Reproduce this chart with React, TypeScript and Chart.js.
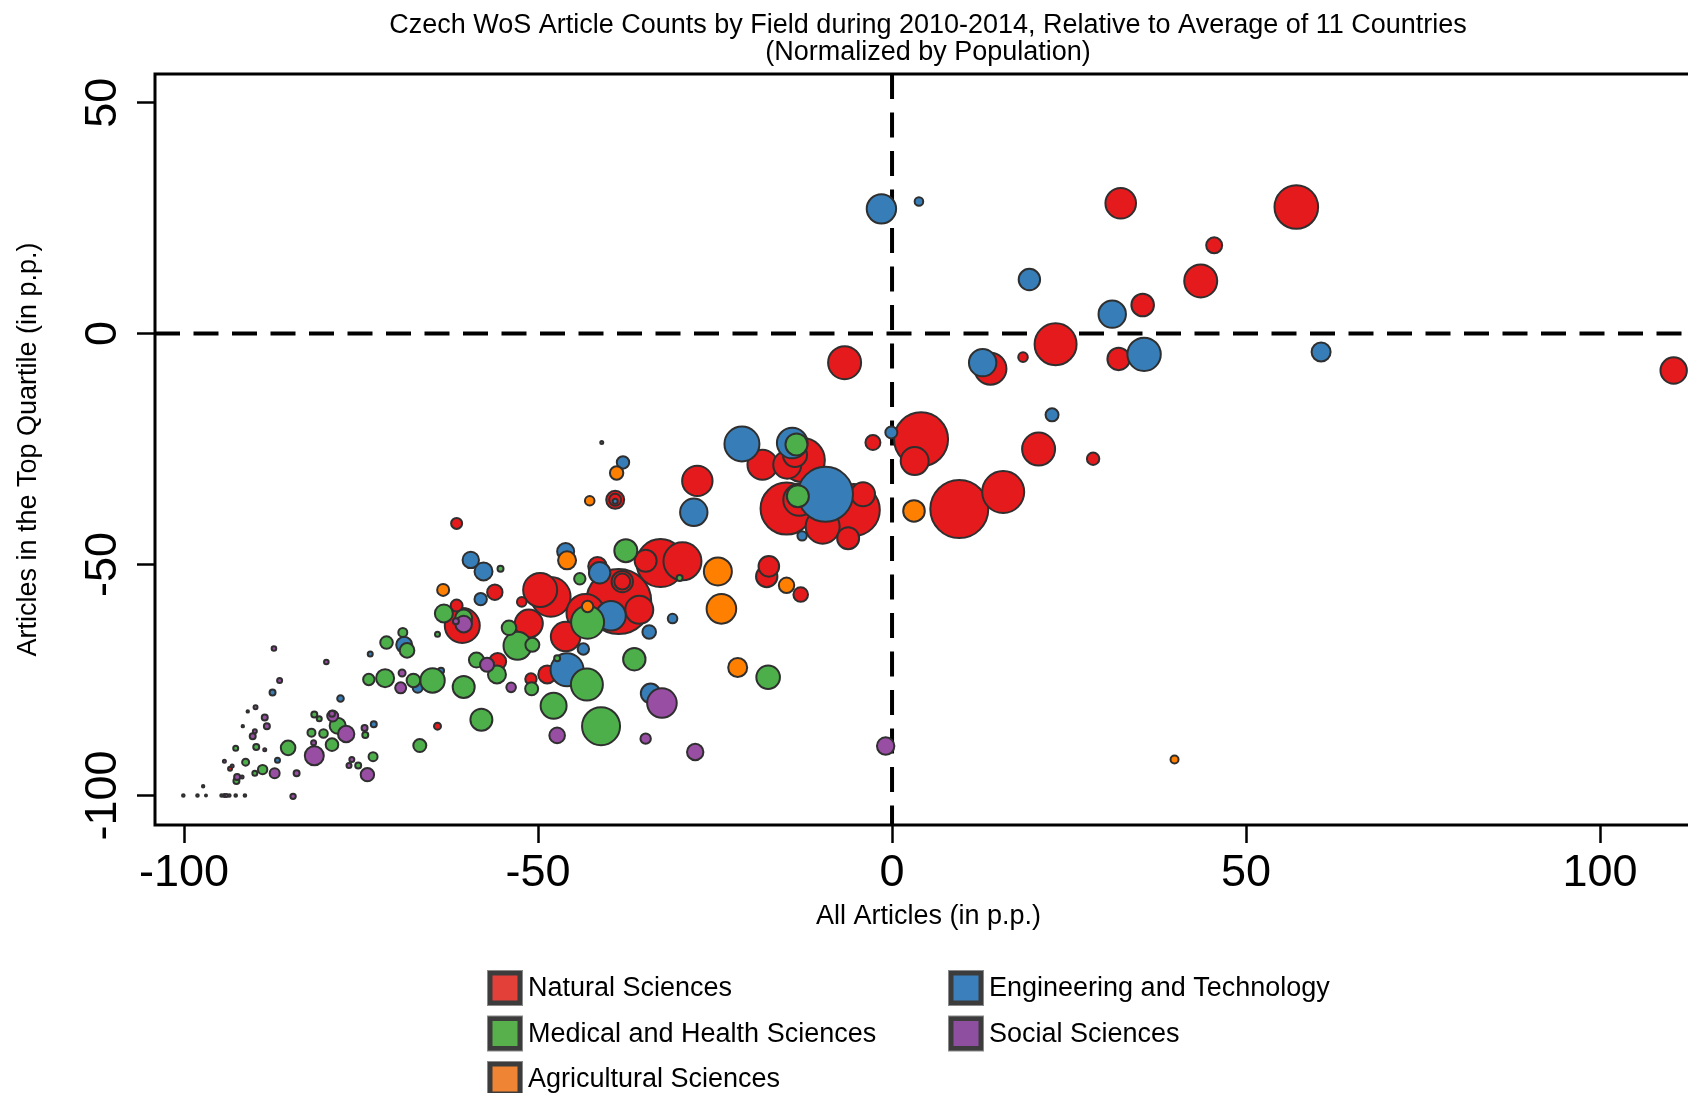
import React, { useEffect, useRef } from "react";
import { Chart, registerables } from "chart.js";

Chart.register(...registerables);

// ---------- text ----------
const TITLE_LINES = [
  "Czech WoS Article Counts by Field during 2010-2014, Relative to Average of 11 Countries",
  "(Normalized by Population)",
];
const X_TITLE = "All Articles (in p.p.)";
const Y_TITLE = "Articles in the Top Quartile (in p.p.)";

// ---------- axes ----------
const X_TICKS = [-100, -50, 0, 50, 100];
const X_TICK_LABELS = ["-100", "-50", "0", "50", "100"];
const Y_TICKS = [-100, -50, 0, 50];
const Y_TICK_LABELS = ["-100", "-50", "0", "50"];
const X_MIN = -104.1;
const X_MAX = 114.4;
const Y_MIN = -106.4;
const Y_MAX = 56.2;

// ---------- categories ----------
const CATEGORIES = [
  "Natural Sciences",
  "Medical and Health Sciences",
  "Agricultural Sciences",
  "Engineering and Technology",
  "Social Sciences",
];

// each point: [all articles p.p., top-quartile p.p., bubble radius]
type P = [number, number, number];

const NATURAL: P[] = [
  [32.3, 28.2, 16.3], [57.1, 27.4, 22.8], [45.5, 19.1, 9], [43.6, 11.4, 17.5], [35.4, 6.2, 12.3],
  [23.1, -2.3, 22], [18.5, -5.1, 5.8], [13.9, -7.6, 17], [32.0, -5.5, 12.2], [110.4, -8.0, 14.2],
  [-6.7, -6.3, 17.5], [-2.7, -23.6, 8.5], [4.1, -22.9, 28], [3.2, -27.6, 15], [20.7, -25.0, 17.5],
  [28.4, -27.1, 7.2], [15.7, -34.3, 22], [9.5, -38.0, 30], [-18.3, -28.4, 16], [-12.6, -27.4, 23],
  [-14.8, -28.4, 15], [-13.7, -26.3, 13], [-14.9, -37.9, 27], [-13.1, -36.0, 17], [-9.8, -41.8, 18],
  [-5.4, -38.2, 27], [-4.1, -34.8, 13], [-6.2, -44.3, 12], [-27.5, -31.9, 16.2], [-32.7, -49.7, 25],
  [-29.6, -49.3, 20], [-34.8, -49.2, 12], [-17.4, -50.4, 11.3], [-17.7, -52.6, 11.7], [-12.9, -56.5, 8.3],
  [-39.1, -36.0, 10], [-39.1, -36.0, 7], [-61.5, -41.1, 6.5], [-56.1, -56.0, 8.7], [-52.3, -58.1, 5.8],
  [-41.6, -50.4, 10.3], [-38.6, -58.0, 33.5], [-38.1, -53.7, 11.7], [-38.1, -53.7, 9], [-35.7, -59.8, 15],
  [-48.2, -57.0, 20.8], [-49.7, -55.5, 18], [-46.1, -65.6, 15.8], [-51.3, -62.8, 15], [-60.7, -63.2, 18.5],
  [-48.7, -73.8, 10], [-51.0, -74.8, 6.7], [-55.7, -71.0, 9.5], [-61.5, -58.9, 7], [-64.2, -85.0, 4.5],
  [-43.3, -60.5, 20], [-93.5, -94.2, 3],
];

const MEDICAL: P[] = [
  [-13.5, -24.0, 12], [-13.3, -35.2, 12], [-30.0, -52.9, 4], [-55.3, -50.9, 4], [-37.6, -47.0, 12.5],
  [-44.1, -53.1, 6.7], [-43.0, -62.5, 17.5], [-54.1, -63.7, 8.3], [-52.9, -67.6, 15], [-50.8, -67.4, 8],
  [-47.3, -70.3, 4], [-43.1, -76.0, 17], [-50.9, -76.9, 7.5], [-58.7, -70.7, 8.5], [-55.8, -73.8, 10],
  [-60.5, -76.5, 12], [-47.8, -80.6, 14], [-58.0, -83.6, 12], [-36.4, -70.5, 12.2], [-41.1, -85.0, 20],
  [-17.5, -74.4, 12.8], [-60.5, -61.6, 9.5], [-63.3, -60.6, 10], [-64.2, -65.1, 3.5], [-68.5, -68.6, 8.3],
  [-69.1, -64.7, 5.5], [-67.6, -75.1, 7.8], [-64.9, -75.1, 13.2], [-66.7, -89.2, 7.5], [-71.4, -66.9, 7.3],
  [-73.9, -74.9, 6.7], [-71.6, -74.6, 10], [-81.6, -82.5, 4], [-80.9, -83.4, 3.5], [-78.3, -84.9, 9],
  [-82.0, -86.4, 5], [-80.3, -86.6, 5.3], [-79.1, -89.0, 7.3], [-85.3, -89.7, 8.3], [-74.4, -86.9, 4],
  [-73.3, -91.6, 5.5], [-75.4, -93.5, 4], [-89.8, -89.5, 4], [-92.7, -89.8, 3.5], [-91.3, -92.8, 4.5],
  [-88.9, -94.4, 5.7], [-90.0, -95.2, 3.5], [-92.6, -96.9, 4],
];

const AGRICULTURAL: P[] = [
  [39.9, -92.2, 5], [3.1, -38.4, 11.8], [-24.6, -51.5, 15], [-14.9, -54.5, 8.7], [-24.1, -59.6, 15.8],
  [-21.8, -72.3, 10.5], [-38.9, -30.2, 7.7], [-42.7, -36.2, 5.8], [-45.9, -49.1, 10], [-43.0, -59.1, 6.7],
  [-63.4, -55.5, 7],
];

const ENGINEERING: P[] = [
  [-1.5, 27.0, 15.7], [3.8, 28.6, 5.3], [19.4, 11.7, 11.7], [31.1, 4.2, 14.7], [12.8, -6.3, 14.7],
  [35.6, -4.5, 17.7], [60.6, -4.0, 10.5], [22.6, -17.6, 7.5], [-0.1, -21.4, 7], [-21.2, -23.9, 18.5],
  [-14.1, -23.7, 16.3], [-9.4, -34.8, 28.5], [-12.7, -43.8, 5.7], [-28.0, -38.7, 14.7], [-38.0, -27.9, 7.2],
  [-39.1, -36.3, 3.5], [-59.5, -49.0, 9.2], [-57.7, -51.5, 10], [-58.1, -57.5, 7.2], [-46.1, -47.2, 9.5],
  [-41.3, -51.8, 11.7], [-39.7, -61.1, 15.8], [-43.6, -68.3, 6.7], [-45.9, -72.8, 17.5], [-34.1, -77.9, 10.8],
  [-31.0, -61.7, 5.8], [-34.3, -64.6, 7.8], [-68.9, -67.4, 9], [-73.7, -69.4, 3.5], [-87.5, -77.7, 4],
  [-77.9, -79.0, 4.3], [-73.2, -84.6, 4], [-86.8, -92.4, 3.5], [-63.7, -73.0, 4], [-67.0, -76.7, 6],
];

const SOCIAL: P[] = [
  [-0.9, -89.3, 9.7], [-60.5, -62.9, 9.3], [-61.6, -62.3, 4], [-53.8, -76.6, 5.8], [-57.2, -71.7, 8],
  [-47.3, -87.0, 8.8], [-34.8, -87.7, 6.2], [-27.8, -90.6, 9.2], [-32.5, -80.0, 15.8], [-69.2, -73.5, 4.5],
  [-69.4, -76.7, 6.5], [-87.3, -68.2, 3.3], [-86.5, -75.1, 3.5], [-79.9, -71.1, 3.3], [-89.9, -80.9, 3],
  [-88.6, -83.1, 4], [-88.3, -85.0, 4], [-90.0, -86.1, 3], [-90.3, -87.2, 4], [-79.1, -82.3, 4],
  [-79.0, -82.8, 6.5], [-77.1, -86.7, 9.2], [-81.6, -91.4, 10.5], [-81.7, -88.6, 3.5], [-74.5, -85.4, 4],
  [-76.3, -92.2, 3.5], [-76.7, -93.5, 3.5], [-74.1, -95.5, 7.7], [-87.2, -95.2, 6], [-84.1, -95.2, 4],
  [-92.5, -96.0, 4], [-84.6, -100.2, 3.7],
  // tiny fields (outline only visible)
  [-41.0, -23.6, 2.5], [-91.0, -81.8, 2.2], [-91.7, -85.0, 2.2], [-88.6, -90.1, 2.5], [-94.3, -92.6, 2.5],
  [-93.2, -93.6, 2.5], [-91.8, -96.0, 2.5], [-97.3, -98.0, 2.2], [-100.1, -100, 2.3], [-98.1, -100, 2.3],
  [-96.9, -100, 2], [-94.7, -100, 2.3], [-94.3, -100, 2.5], [-94.0, -100, 2.5], [-93.6, -100, 2.3],
  [-92.7, -100, 2.3], [-91.4, -100, 2.3],
];

const SERIES: P[][] = [NATURAL, MEDICAL, AGRICULTURAL, ENGINEERING, SOCIAL];
const MARKER_FILL = ["#e41a1c", "#4daf4a", "#ff7f00", "#377eb8", "#984ea3"];
const LEGEND_FILL = ["#e3403a", "#58b04c", "#ee8434", "#3b80bd", "#8f4fa0"];
const DRAW_ORDER = [4, 2, 0, 3, 1]; // lower = drawn on top
const OUTLINE = "#2f2f2f";
const FONT = '"Liberation Sans", Arial, Helvetica, sans-serif';

const W = 1856;
const H = 1093;

const decorPlugin = {
  id: "decor",
  beforeDatasetsDraw(chart: any) {
    const { ctx, chartArea: a, scales } = chart;
    const x0 = scales.x.getPixelForValue(0);
    const y0 = scales.y.getPixelForValue(0);
    ctx.save();
    ctx.strokeStyle = "#000";
    ctx.lineWidth = 4;
    ctx.setLineDash([25, 13.5]);
    ctx.beginPath();
    ctx.moveTo(x0, a.top);
    ctx.lineTo(x0, a.bottom);
    ctx.stroke();
    ctx.beginPath();
    ctx.moveTo(a.left, y0);
    ctx.lineTo(a.right, y0);
    ctx.stroke();
    ctx.restore();
  },
  afterDatasetsDraw(chart: any) {
    const { ctx, chartArea: a } = chart;
    ctx.save();
    ctx.strokeStyle = "#000";
    ctx.lineWidth = 3;
    ctx.lineJoin = "miter";
    ctx.beginPath();
    ctx.moveTo(a.right, a.top);
    ctx.lineTo(a.left, a.top);
    ctx.lineTo(a.left, a.bottom);
    ctx.lineTo(a.right, a.bottom);
    ctx.stroke();
    ctx.restore();
  },
  afterDraw(chart: any) {
    const { ctx } = chart;
    const cols = [488, 949];
    const rows = [988, 1033.5, 1079];
    ctx.save();
    chart.data.datasets.forEach((ds: any, i: number) => {
      const x = cols[Math.floor(i / 3)];
      const cy = rows[i % 3];
      ctx.fillStyle = "#8a8a8a";
      ctx.fillRect(x - 1, cy - 18, 36, 36);
      ctx.fillStyle = "#3c3c3c";
      ctx.fillRect(x, cy - 17, 34, 34);
      ctx.fillStyle = ds.legendColor;
      ctx.fillRect(x + 4.5, cy - 12.5, 25, 25);
      ctx.fillStyle = "#000";
      ctx.font = `27px ${FONT}`;
      ctx.textBaseline = "middle";
      ctx.textAlign = "left";
      ctx.fillText(ds.label, x + 40, cy + 1);
    });
    ctx.restore();
  },
};

export default function App() {
  const ref = useRef<HTMLCanvasElement | null>(null);

  useEffect(() => {
    if (!ref.current) return;
    Chart.defaults.font.family = FONT;
    Chart.defaults.color = "#000";

    const datasets = SERIES.map((pts, i) => ({
      label: CATEGORIES[i],
      data: [...pts]
        .sort((a, b) => b[2] - a[2])
        .map(([x, y, r]) => ({ x, y, r: Math.max(r - 1, 0.8) })),
      backgroundColor: MARKER_FILL[i],
      borderColor: OUTLINE,
      borderWidth: 2,
      order: DRAW_ORDER[i],
      legendColor: LEGEND_FILL[i],
    }));

    const grid = {
      display: true,
      drawOnChartArea: false,
      drawTicks: true,
      tickLength: 18,
      tickWidth: 2.5,
      tickColor: "#000",
    };

    const chart = new Chart(ref.current, {
      type: "bubble",
      data: { datasets } as any,
      plugins: [decorPlugin],
      options: {
        responsive: false,
        animation: false,
        devicePixelRatio: 1,
        events: [],
        layout: { padding: 0 },
        plugins: {
          legend: { display: false },
          tooltip: { enabled: false },
          title: {
            display: true,
            text: TITLE_LINES,
            color: "#000",
            font: { size: 27, weight: "normal", lineHeight: 1.0, family: FONT },
            padding: { top: 12, bottom: 8 },
          },
        },
        scales: {
          x: {
            type: "linear",
            position: "bottom",
            min: X_MIN,
            max: X_MAX,
            afterBuildTicks: (s: any) => {
              s.ticks = X_TICKS.map((v) => ({ value: v }));
            },
            afterFit: (s: any) => {
              s.height = 268;
            },
            grid,
            border: { display: false },
            ticks: {
              autoSkip: false,
              minRotation: 0,
              maxRotation: 0,
              padding: 4,
              color: "#000",
              font: { size: 45, family: FONT },
              callback: (v: any) => X_TICK_LABELS[X_TICKS.indexOf(Number(v))] ?? "",
            },
            title: {
              display: true,
              text: X_TITLE,
              color: "#000",
              font: { size: 27, family: FONT, lineHeight: 1.2 },
              padding: { top: 0, bottom: 160.5 },
            },
          },
          y: {
            type: "linear",
            position: "left",
            min: Y_MIN,
            max: Y_MAX,
            afterBuildTicks: (s: any) => {
              s.ticks = Y_TICKS.map((v) => ({ value: v }));
            },
            afterFit: (s: any) => {
              s.width = 155;
            },
            grid,
            border: { display: false },
            ticks: {
              autoSkip: false,
              minRotation: 90,
              maxRotation: 90,
              crossAlign: "center",
              padding: -12,
              color: "#000",
              font: { size: 45, family: FONT },
              callback: (v: any) => Y_TICK_LABELS[Y_TICKS.indexOf(Number(v))] ?? "",
            },
            title: {
              display: true,
              text: Y_TITLE,
              color: "#000",
              font: { size: 27, family: FONT, lineHeight: 1.2 },
              padding: { top: 12.5, bottom: 0 },
            },
          },
          y2: {
            type: "linear",
            position: "right",
            display: true,
            grid: { display: false },
            border: { display: false },
            ticks: { display: false },
            afterFit: (s: any) => {
              s.width = 154;
            },
          },
        },
      } as any,
    });

    return () => chart.destroy();
  }, []);

  return (
    <div
      style={{
        position: "absolute",
        left: 0,
        top: 0,
        width: 1688,
        height: 1093,
        overflow: "hidden",
        background: "#fff",
      }}
    >
      <canvas ref={ref} width={W} height={H} style={{ width: W, height: H, display: "block" }} />
    </div>
  );
}
